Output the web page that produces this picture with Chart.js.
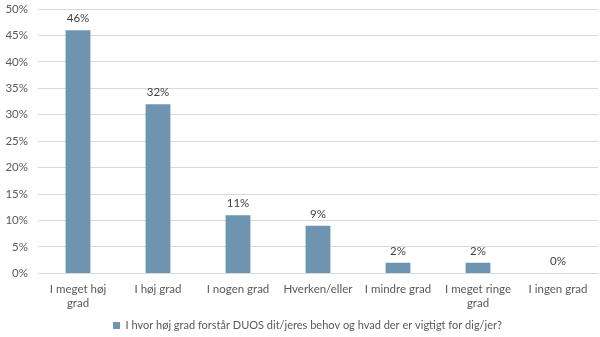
<!DOCTYPE html>
<html>
<head>
<meta charset="utf-8">
<script src="https://cdn.jsdelivr.net/npm/chart.js@4/dist/chart.umd.min.js"></script>
<style>
  html, body { margin: 0; padding: 0; background: #fff; }
  #wrap { width: 600px; height: 337px; }
</style>
</head>
<body>
<div id="wrap"><canvas id="svarChart"></canvas></div>
<script>
// Svarkategorier og andel af svar (%)
const kategorier = [
    ["I meget høj", "grad"],
    "I høj grad",
    "I nogen grad",
    "Hverken/eller",
    "I mindre grad",
    ["I meget ringe", "grad"],
    "I ingen grad"
];
const andele = [46, 32, 11, 9, 2, 2, 0];
const serieNavn = "I hvor høj grad forstår DUOS dit/jeres behov og hvad der er vigtigt for dig/jer?";

const fontFamily = "Lato, 'Open Sans', sans-serif";
const tekstFarve = "#595959";
const barFarve = "#6E94B0";

// Skriv procent over hver søjle
const vaerdiLabels = {
    id: "vaerdiLabels",
    afterDatasetsDraw(chart) {
        const ctx = chart.ctx;
        const meta = chart.getDatasetMeta(0);
        ctx.save();
        ctx.font = "11.5px " + fontFamily;
        ctx.fillStyle = "#404040";
        ctx.textAlign = "center";
        ctx.textBaseline = "bottom";
        meta.data.forEach(function (bar, i) {
            ctx.fillText(andele[i] + "%", bar.x, bar.y - 6);
        });
        ctx.restore();
    }
};

// Forklaringen står lidt til højre for midten
const flytLegend = {
    id: "flytLegend",
    afterLayout(chart) {
        chart.legend.left += 15;
    }
};

new Chart(document.getElementById("svarChart"), {
    type: "bar",
    data: {
        labels: kategorier,
        datasets: [{
            label: serieNavn,
            data: andele,
            backgroundColor: barFarve,
            barPercentage: 0.62,
            categoryPercentage: 0.5
        }]
    },
    options: {
        responsive: true,
        maintainAspectRatio: false,
        animation: false,
        layout: {
            padding: { top: 0, right: 2, left: 2, bottom: -4 }
        },
        plugins: {
            legend: {
                position: "bottom",
                labels: {
                    boxWidth: 7,
                    boxHeight: 7,
                    padding: 1,
                    color: tekstFarve,
                    font: { family: fontFamily, size: 11 }
                }
            },
            tooltip: { enabled: false }
        },
        scales: {
            x: {
                grid: { display: false, drawTicks: false },
                border: { color: "#d9d9d9" },
                ticks: {
                    color: tekstFarve,
                    maxRotation: 0,
                    autoSkip: false,
                    padding: 9,
                    font: { family: fontFamily, size: 11.5, lineHeight: 1.2 }
                }
            },
            y: {
                min: 0,
                max: 50,
                afterFit(axis) {
                    axis.width = 36;
                    axis.paddingTop = 9;
                },
                grid: { color: "#d9d9d9", drawTicks: false },
                border: { display: false },
                ticks: {
                    stepSize: 5,
                    padding: 10,
                    color: tekstFarve,
                    font: { family: fontFamily, size: 11.5 },
                    callback: function (v) { return v + "%"; }
                }
            }
        }
    },
    plugins: [vaerdiLabels, flytLegend]
});
</script>
</body>
</html>
